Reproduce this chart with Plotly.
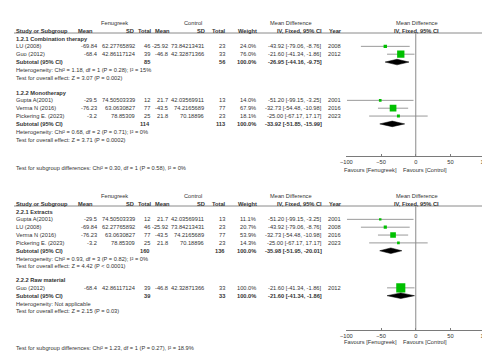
import plotly.graph_objects as go

W, H = 490, 356

# ---------------- data ----------------
study = ["Gupta A(2001)", "LU (2008)", "Verma N (2016)", "Pickering E. (2023)", "Guo (2012)"]
fen_mean = [-29.5, -69.84, -76.23, -3.2, -68.4]
fen_sd = [74.50503339, 62.27765892, 63.0630827, 78.85309, 42.86117124]
fen_n = [12, 46, 77, 25, 39]
ctl_mean = [21.7, -25.92, -43.5, 21.8, -46.8]
ctl_sd = [42.03569911, 73.84213431, 74.2165689, 70.18896, 42.32871366]
ctl_n = [13, 23, 77, 23, 33]
md = [-51.20, -43.92, -32.73, -25.00, -21.60]
md_lo = [-99.15, -79.06, -54.48, -67.17, -41.34]
md_hi = [-3.25, -8.76, -10.98, 17.17, -1.86]
year = [2001, 2008, 2016, 2023, 2012]

# analysis 1 subgroups
a1_names = ["1.2.1 Combination therapy", "1.2.2 Monotherapy"]
a1_members = [[1, 4], [0, 2, 3]]
a1_weights = [[24.0, 76.0], [14.0, 67.9, 18.1]]
a1_sub_n = [(85, 56), (114, 113)]
a1_sub_md = [(-26.95, -44.16, -9.75), (-33.92, -51.85, -15.99)]
a1_het = ["Heterogeneity: Chi² = 1.18, df = 1 (P = 0.28); I² = 15%",
          "Heterogeneity: Chi² = 0.68, df = 2 (P = 0.71); I² = 0%"]
a1_z = ["Test for overall effect: Z = 3.07 (P = 0.002)",
        "Test for overall effect: Z = 3.71 (P = 0.0002)"]
a1_diff = "Test for subgroup differences: Chi² = 0.30, df = 1 (P = 0.58), I² = 0%"

# analysis 2 subgroups
a2_names = ["2.2.1 Extracts", "2.2.2 Raw material"]
a2_members = [[0, 1, 2, 3], [4]]
a2_weights = [[11.1, 20.7, 53.9, 14.3], [100.0]]
a2_sub_n = [(160, 136), (39, 33)]
a2_sub_md = [(-35.98, -51.95, -20.01), (-21.60, -41.34, -1.86)]
a2_het = ["Heterogeneity: Chi² = 0.93, df = 3 (P = 0.82); I² = 0%",
          "Heterogeneity: Not applicable"]
a2_z = ["Test for overall effect: Z = 4.42 (P < 0.0001)",
        "Test for overall effect: Z = 2.15 (P = 0.03)"]
a2_diff = "Test for subgroup differences: Chi² = 1.23, df = 1 (P = 0.27), I² = 18.9%"

x_ticks = [-100, -50, 0, 50, 100]
fav_left = "Favours [Fenugreek]"
fav_right = "Favours [Control]"

# ---------------- styling ----------------
FONT = "Liberation Sans, Arial, sans-serif"
FS = 5.7
TXT = "#333333"
GREEN = "#00c000"
GRAY = "#9a9a9a"
STEP = 7.85

FX0, FX1 = 340, 482  # forest axis pixel extent

fig = go.Figure()
ann = []


def T(x, y, text, anchor="left", bold=False, size=FS):
    if bold:
        text = "<b>" + text + "</b>"
    ann.append(dict(x=x / W, y=1 - y / H, xref="paper", yref="paper", text=text,
                    showarrow=False, xanchor=anchor, yanchor="middle",
                    font=dict(family=FONT, size=size, color=TXT), borderpad=0))


def header(y_top):
    T(103, y_top, "Fenugreek", "center")
    T(183, y_top, "Control", "center")
    T(283, y_top, "Mean Difference", "center")
    T(412, y_top, "Mean Difference", "center")
    y2 = y_top + 8
    T(1, y2, "Study or Subgroup", "left", True)
    T(82, y2, "Mean", "right", True)
    T(124, y2, "SD", "right", True)
    T(142, y2, "Total", "right", True)
    T(161, y2, "Mean", "right", True)
    T(196, y2, "SD", "right", True)
    T(218, y2, "Total", "right", True)
    T(250, y2, "Weight", "right", True)
    T(316, y2, "IV, Fixed, 95% CI", "right", True)
    T(321, y2, "Year", "left", True)
    T(412, y2, "IV, Fixed, 95% CI", "center", True)


def fmt_ci(m, l, h):
    return "%.2f [%.2f, %.2f]" % (m, l, h)


def analysis(xa, ya, names, members, weights, sub_n, sub_md, het, zt, starts):
    for g in range(len(names)):
        y = starts[g]
        T(1, y, names[g], "left", True)
        y += STEP
        for k, i in enumerate(members[g]):
            w = weights[g][k]
            T(1, y, study[i])
            T(86, y, str(fen_mean[i]), "right")
            T(125, y, str(fen_sd[i]), "right")
            T(140, y, str(fen_n[i]), "right")
            T(158.5, y, str(ctl_mean[i]), "right")
            T(195.5, y, str(ctl_sd[i]), "right")
            T(217, y, str(ctl_n[i]), "right")
            T(249, y, "%.1f%%" % w, "right")
            T(316, y, fmt_ci(md[i], md_lo[i], md_hi[i]), "right")
            T(320, y, str(year[i]), "left")
            # CI line
            fig.add_trace(go.Scatter(x=[md_lo[i], md_hi[i]], y=[y, y], mode="lines",
                                     line=dict(color=GRAY, width=1), xaxis=xa, yaxis=ya,
                                     showlegend=False, hoverinfo="skip", cliponaxis=False))
            fig.add_trace(go.Scatter(x=[md[i]], y=[y], mode="markers",
                                     marker=dict(symbol="square", color=GREEN,
                                                 size=1.6 + 0.075 * w,
                                                 line=dict(width=0)),
                                     xaxis=xa, yaxis=ya, showlegend=False))
            y += STEP
        # subtotal
        T(1, y, "Subtotal (95% CI)", "left", True)
        T(140, y, str(sub_n[g][0]), "right", True)
        T(217, y, str(sub_n[g][1]), "right", True)
        T(249, y, "100.0%", "right", True)
        m, l, h = sub_md[g]
        T(316, y, fmt_ci(m, l, h), "right", True)
        dh = 2.8
        fig.add_trace(go.Scatter(x=[l, m, h, m, l], y=[y, y - dh, y, y + dh, y],
                                 mode="lines", fill="toself", fillcolor="black",
                                 line=dict(color="black", width=0.5), xaxis=xa, yaxis=ya,
                                 showlegend=False, hoverinfo="skip"))
        y += STEP
        T(1, y, het[g])
        y += STEP
        T(1, y, zt[g])


# ---------------- top analysis ----------------
header(15)
analysis("x", "y", a1_names, a1_members, a1_weights, a1_sub_n, a1_sub_md, a1_het, a1_z,
         [30.5, 84.5])
T(1, 160, a1_diff)
T(393, 162, fav_left, "right")
T(397, 162, fav_right, "left")

# ---------------- bottom analysis ----------------
header(188)
analysis("x2", "y2", a2_names, a2_members, a2_weights, a2_sub_n, a2_sub_md, a2_het, a2_z,
         [203.5, 272])
T(1, 340, a2_diff)
T(393, 334, fav_left, "right")
T(397, 334, fav_right, "left")


def xax():
    return dict(domain=[FX0 / W, FX1 / W], range=[-100, 100], tickvals=x_ticks,
                showline=True, linecolor="#7a7a7a", linewidth=1, ticks="inside",
                ticklen=2, tickcolor="#7a7a7a", showgrid=False, zeroline=False,
                tickfont=dict(family=FONT, size=FS, color=TXT), fixedrange=True)


def yax(top, bottom):
    return dict(domain=[1 - bottom / H, 1 - top / H], range=[bottom, top], visible=False,
                showgrid=False, zeroline=False, fixedrange=True)


TOP1, BOT1 = 25, 148
TOP2, BOT2 = 198, 322

shapes = []
for (t, b, xr) in [(TOP1, BOT1, "x"), (TOP2, BOT2, "x2")]:
    # horizontal header rule
    shapes.append(dict(type="line", xref="paper", yref="paper", x0=0, x1=1,
                       y0=1 - t / H, y1=1 - t / H, line=dict(color="#8a8a8a", width=1)))
    # null line
    shapes.append(dict(type="line", xref=xr, yref="paper", x0=0, x1=0,
                       y0=1 - b / H, y1=1 - t / H, line=dict(color="#8a8a8a", width=1)))

fig.update_layout(
    width=W, height=H, margin=dict(l=0, r=0, t=0, b=0),
    paper_bgcolor="white", plot_bgcolor="rgba(0,0,0,0)",
    xaxis=dict(xax(), anchor="y"), yaxis=dict(yax(TOP1, BOT1), anchor="x"),
    xaxis2=dict(xax(), anchor="y2"), yaxis2=dict(yax(TOP2, BOT2), anchor="x2"),
    annotations=ann, shapes=shapes, showlegend=False,
)

fig.write_html("out.html")
